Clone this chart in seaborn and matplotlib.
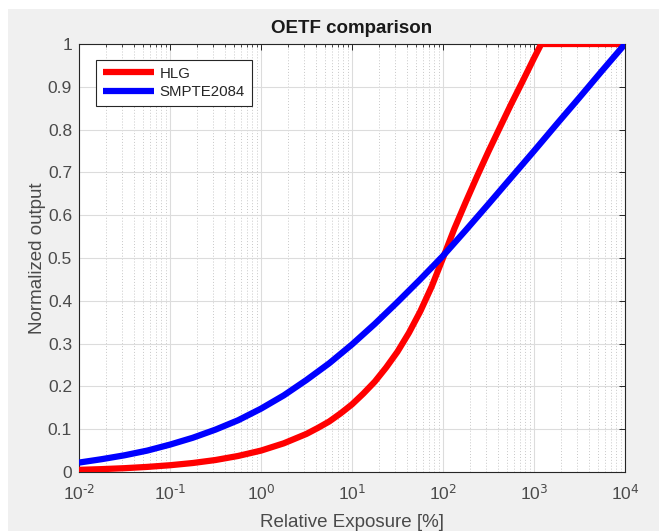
import math
import pandas as pd
import matplotlib.pyplot as plt
import matplotlib.ticker as mticker
from matplotlib.patches import Rectangle
import seaborn as sns

# Values (exposure in %, normalized output)
hlg_exposure = [0.01, 0.0178, 0.0316, 0.0562, 0.1, 0.178, 0.316, 0.562, 1.0, 1.78,
                3.16, 4.22, 5.62, 7.5, 10.0, 13.3, 17.8, 23.7, 31.6, 42.2, 56.2, 75.0,
                100.0, 133.0, 178.0, 237.0, 316.0, 422.0, 562.0, 750.0,
                1000.0, 1200.0, 10000.0]
hlg_output = [0.005, 0.0067, 0.0089, 0.0119, 0.0158, 0.021, 0.028, 0.0375, 0.050, 0.067,
              0.089, 0.103, 0.118, 0.137, 0.158, 0.183, 0.211, 0.244, 0.281, 0.325, 0.375, 0.433,
              0.500, 0.568, 0.631, 0.691, 0.749, 0.805, 0.860, 0.913,
              0.967, 1.0, 1.0]

pq_exposure = [0.01, 0.0178, 0.0316, 0.0562, 0.1, 0.178, 0.316, 0.562, 1.0, 1.78,
               3.16, 5.62, 10.0, 17.8, 31.6, 56.2, 100.0, 178.0, 316.0, 562.0,
               1000.0, 1780.0, 3160.0, 5620.0, 10000.0]
pq_output = [0.022, 0.030, 0.039, 0.050, 0.064, 0.080, 0.099, 0.121, 0.148, 0.179,
             0.215, 0.254, 0.298, 0.346, 0.397, 0.450, 0.505, 0.565, 0.626, 0.688,
             0.750, 0.813, 0.875, 0.938, 1.0]

series_names = ['HLG', 'SMPTE2084']
series_colors = {'HLG': '#ff0000', 'SMPTE2084': '#0000ff'}
x_ticks = [1e-2, 1e-1, 1e0, 1e1, 1e2, 1e3, 1e4]
y_ticks = [0, 0.1, 0.2, 0.3, 0.4, 0.5, 0.6, 0.7, 0.8, 0.9, 1]
y_tick_labels = ['0', '0.1', '0.2', '0.3', '0.4', '0.5', '0.6', '0.7', '0.8', '0.9', '1']

df = pd.concat([
    pd.DataFrame({'exposure': hlg_exposure, 'output': hlg_output, 'curve': 'HLG'}),
    pd.DataFrame({'exposure': pq_exposure, 'output': pq_output, 'curve': 'SMPTE2084'}),
])

sns.set_theme(style='white')
plt.rcParams['font.family'] = ['Liberation Sans', 'DejaVu Sans']
plt.rcParams['mathtext.default'] = 'regular'
plt.rcParams['axes.unicode_minus'] = False

fig = plt.figure(figsize=(6.59, 5.31), dpi=100, facecolor='white')
# MATLAB-like grey figure area with a thin white margin top/left
fig.patches.append(Rectangle((8 / 659, 0), 1, 1 - 9 / 531, transform=fig.transFigure,
                             facecolor='#f0f0f0', edgecolor='none', zorder=-10))
ax = fig.add_axes([79 / 659, 1 - 472 / 531, 546 / 659, 428 / 531])
ax.set_facecolor('white')

sns.lineplot(data=df, x='exposure', y='output', hue='curve', hue_order=series_names,
             palette=series_colors, linewidth=4.5, sort=False, ax=ax, zorder=3,
             solid_joinstyle='round', solid_capstyle='butt')


def pow10_label(v, pos):
    # short hyphen in the exponent, like the MATLAB labels
    e = int(round(math.log10(v)))
    return r'$10^{\text{%d}}$' % e


ax.set_xscale('log')
ax.set_xlim(1e-2, 1e4)
ax.set_ylim(0, 1)
ax.set_xticks(x_ticks)
ax.xaxis.set_minor_locator(mticker.LogLocator(base=10, subs=range(2, 10), numticks=100))
ax.xaxis.set_major_formatter(mticker.FuncFormatter(pow10_label))
ax.xaxis.set_minor_formatter(mticker.NullFormatter())
ax.set_yticks(y_ticks)
ax.set_yticklabels(y_tick_labels)

ax.grid(which='major', color='#dcdcdc', linewidth=0.8, zorder=0)
ax.grid(which='minor', axis='x', color='#c8c8c8', linestyle=(0, (1, 2)), linewidth=0.7, zorder=0)
ax.set_axisbelow(True)

for side in ['top', 'right', 'bottom', 'left']:
    ax.spines[side].set_color('#262626')
    ax.spines[side].set_linewidth(0.8)
ax.tick_params(which='both', direction='in', top=True, right=True, colors='#262626',
               labelsize=12.5, labelcolor='#4a4a4a')
ax.tick_params(which='major', length=4, width=0.7)
ax.tick_params(axis='x', which='major', pad=8)
ax.tick_params(axis='y', which='major', pad=5)
ax.tick_params(which='minor', length=2.5, width=0.6)

ax.set_title('OETF comparison', fontsize=13.5, fontweight='bold', color='#1a1a1a', pad=8)
ax.set_xlabel('Relative Exposure [%]', fontsize=13.5, color='#4a4a4a', labelpad=8)
ax.set_ylabel('Normalized output', fontsize=13.5, color='#4a4a4a', labelpad=1)

leg = ax.legend(loc='upper left', bbox_to_anchor=(0.031, 0.963), title=None,
                fontsize=10.8, handlelength=3.4, borderpad=0.45, labelspacing=0.3,
                handletextpad=0.4, borderaxespad=0, fancybox=False, framealpha=1)
leg.get_frame().set_edgecolor('#262626')
leg.get_frame().set_linewidth(0.8)
for line in leg.get_lines():
    line.set_linewidth(4.5)

fig.savefig('out.png', dpi=100, facecolor=fig.get_facecolor())
